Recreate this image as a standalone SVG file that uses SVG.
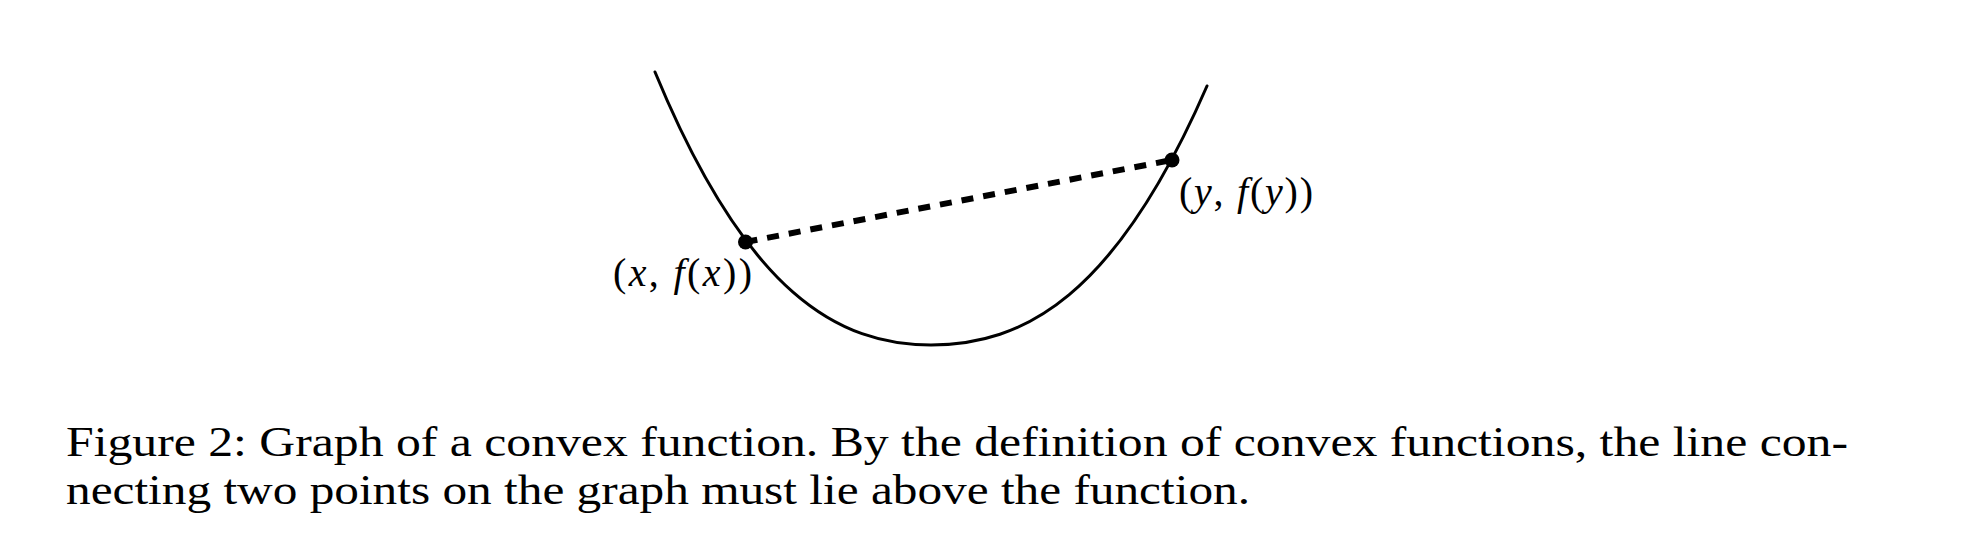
<svg xmlns="http://www.w3.org/2000/svg" width="1972" height="540" viewBox="0 0 1972 540">
<style>
.curve{fill:none;stroke:#000;stroke-width:3;stroke-linecap:round}
.chord{fill:none;stroke:#000;stroke-width:6;stroke-dasharray:12 10}
.dot{fill:#000}
.lbl{font-family:'Liberation Serif','Times New Roman',serif;font-size:40px;fill:#000}
.i{font-style:italic}
.cap{font-family:'Liberation Serif','Times New Roman',serif;font-size:43px;fill:#000}
</style>
<rect width="1972" height="540" fill="#fff"/>
<g id="graph">
<path class="curve" d="M655,72 C747,295 839,345 931,345 C1023,345 1115,297.6 1207,86"/>
</g>
<g id="connectors">
<line class="chord" x1="745.5" y1="242" x2="1172" y2="160"/>
</g>
<g id="point-x">
<circle class="dot" cx="745.5" cy="242" r="7.5"/>
<text class="lbl" x="613" y="286" textLength="139" lengthAdjust="spacing">(<tspan class="i">x</tspan>, <tspan class="i">f</tspan>(<tspan class="i">x</tspan>))</text>
</g>
<g id="point-y">
<circle class="dot" cx="1172" cy="160" r="7.5"/>
<text class="lbl" x="1179" y="205" textLength="134" lengthAdjust="spacing">(<tspan class="i">y</tspan>, <tspan class="i">f</tspan>(<tspan class="i">y</tspan>))</text>
</g>
<g id="caption">
<text class="cap" x="66" y="456" textLength="1782" lengthAdjust="spacingAndGlyphs">Figure 2: Graph of a convex function.  By the definition of convex functions, the line con-</text>
<text class="cap" x="66" y="504" textLength="1184" lengthAdjust="spacingAndGlyphs">necting two points on the graph must lie above the function.</text>
</g>
</svg>
